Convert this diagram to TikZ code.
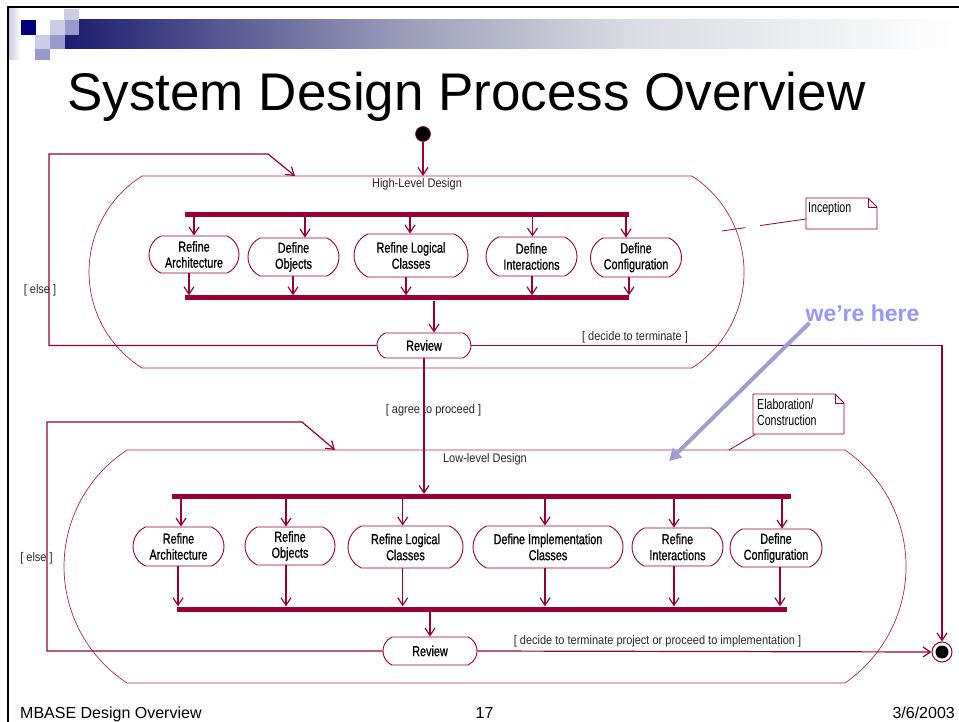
\documentclass[tikz,border=0pt]{standalone}
\usepackage{fontspec}
\setmainfont{Liberation Sans}
\newfontfamily\actfont[FakeStretch=0.75,FakeBold=0.8]{Liberation Sans}
\newfontfamily\notefont[FakeStretch=0.73]{Liberation Sans}
\newfontfamily\labfont[FakeStretch=0.88]{Liberation Sans}
\usetikzlibrary{arrows.meta,shapes.misc}
\definecolor{crimson}{RGB}{153,0,51}
\definecolor{navy}{RGB}{0,0,128}
\definecolor{barstart}{RGB}{28,28,112}
\definecolor{barmid}{RGB}{155,155,185}
\definecolor{barlight}{RGB}{215,218,225}
\definecolor{lavlight}{RGB}{204,204,230}
\definecolor{lavmid}{RGB}{153,153,204}
\definecolor{herecol}{RGB}{150,150,250}
\definecolor{herearrow}{RGB}{158,158,210}
\begin{document}
\begin{tikzpicture}[x=1pt,y=-1pt,
  activity/.style={rounded rectangle, rounded rectangle arc length=130,
    draw=crimson, line width=0.9pt, fill=white, inner sep=0pt, align=center,
    font=\actfont\fontsize{14.5}{16}\selectfont},
  bar/.style={rectangle, fill=crimson, inner sep=0pt, minimum height=5pt},
  conn/.style={draw=crimson, line width=1.2pt, -{Straight Barb[length=7.5pt,width=10pt]}},
  region/.style={draw=crimson!85, line width=0.7pt},
  notebox/.style={draw=crimson, line width=0.8pt},
  notetext/.style={font=\notefont\fontsize{14.5}{16}\selectfont, inner sep=0pt, anchor=base west},
  lab/.style={font=\labfont\fontsize{12.5}{14}\selectfont, text=black!85, anchor=base, inner sep=0pt},
  foot/.style={font=\fontsize{16}{18}\selectfont, inner sep=0pt}]
\useasboundingbox (0,0) rectangle (959,722);

% slide frame
\draw[black, line width=2pt] (8,722) -- (8,7) -- (959,7);

% header decoration
\shade[left color=lavlight, right color=white] (9,9) rectangle (21,60);
\shade[left color=barstart, right color=barmid] (65,20) rectangle (400.5,49);
\shade[left color=barmid, right color=barlight] (400,20) rectangle (620.5,49);
\shade[left color=barlight, right color=white] (620,20) rectangle (959,49);
\fill[navy] (21,20) rectangle (36,35);
\fill[lavlight] (64,9) rectangle (79,20);
\fill[lavlight] (50,20) rectangle (65,35);
\fill[lavlight] (35,35) rectangle (50,49);
\fill[lavmid] (65,20) rectangle (79,35);
\fill[lavmid] (50,35) rectangle (65,49);
\fill[lavmid] (35,49) rectangle (50,60);

% title
\node[anchor=base, inner sep=0pt, font=\fontsize{53}{60}\selectfont] (title) at (466.5,111) {System Design Process Overview};

% superstates
\draw[region] (142,176) -- (692,176) arc[start angle=-56.9, end angle=56.9, radius=114.6]
  -- (142,368) arc[start angle=122.2, end angle=237.8, radius=113.4] -- cycle;
\draw[region] (127,450) -- (845,450) arc[start angle=-55.3, end angle=55.3, radius=141.7]
  -- (127,683) arc[start angle=123.2, end angle=236.8, radius=139.2] -- cycle;
\node[lab] (hltitle) at (417,188) {High-Level Design};
\node[lab] (lltitle) at (485,462.7) {Low-level Design};
\coordinate (hltop) at (423,176);
\coordinate (hlentry) at (295,176);
\coordinate (llentry) at (335,450);

% start and end states
\node[circle, fill=black, draw=crimson, line width=0.6pt, minimum size=15pt, inner sep=0pt] (init) at (423,134) {};
\node[circle, draw=crimson, fill=white, line width=1pt, minimum size=20pt, inner sep=0pt,
  path picture={\fill[black] (path picture bounding box.center) circle (6.5pt);}] (final) at (942,652) {};

% high-level design activities
\node[bar, minimum width=444pt] (hlfork) at (407,214.5) {};
\node[bar, minimum width=444pt] (hljoin) at (407,298) {};
\node[activity, minimum width=90pt, minimum height=37pt] (h1) at (194,254.5) {Refine\\Architecture};
\node[activity, minimum width=91pt, minimum height=38pt] (h2) at (293.5,257) {Define\\Objects};
\node[activity, minimum width=114pt, minimum height=43pt] (h3) at (411,255.5) {Refine Logical\\Classes};
\node[activity, minimum width=91pt, minimum height=39pt] (h4) at (531.5,256.5) {Define\\Interactions};
\node[activity, minimum width=91pt, minimum height=39pt] (h5) at (636,257.5) {Define\\Configuration};
\node[activity, minimum width=94pt, minimum height=25pt] (hreview) at (424,345.5) {Review};

\draw[conn] (init.south) -- (hltop);
\draw[conn] (hlfork.south -| 194,0) -- (h1.north -| 194,0);
\draw[conn] (hlfork.south -| 305,0) -- (h2.north -| 305,0);
\draw[conn] (hlfork.south -| 410,0) -- (h3.north -| 410,0);
\draw[conn] (hlfork.south -| 532.5,0) -- (h4.north -| 532.5,0);
\draw[conn] (hlfork.south -| 626,0) -- (h5.north -| 626,0);
\draw[conn] (h1.south -| 189,0) -- (hljoin.north -| 189,0);
\draw[conn] (h2.south -| 293,0) -- (hljoin.north -| 293,0);
\draw[conn] (h3.south -| 406,0) -- (hljoin.north -| 406,0);
\draw[conn] (h4.south -| 532,0) -- (hljoin.north -| 532,0);
\draw[conn] (h5.south -| 629,0) -- (hljoin.north -| 629,0);
\draw[conn] (hljoin.south -| 434,0) -- (hreview.north -| 434,0);

% high-level transitions
\draw[conn] (hreview.west) -- (hreview.west -| 49,0) -- (49,154) -- (268,154) -- (hlentry);
\node[lab] (else1) at (40,293.3) {[ else ]};
\draw[conn] (hreview.east) -| (final.north);
\node[lab] (term1) at (635,340) {[ decide to terminate ]};
\node[lab] (agree) at (433.5,413.3) {[ agree to proceed ]};

% low-level design activities
\node[bar, minimum width=619pt] (llfork) at (481.5,496.7) {};
\node[bar, minimum width=610pt] (lljoin) at (482,609) {};
\draw[conn] (hreview.south) -- (llfork.north -| hreview.south);
\node[activity, minimum width=91pt, minimum height=39pt] (l1) at (178.5,546.5) {Refine\\Architecture};
\node[activity, minimum width=90pt, minimum height=38pt] (l2) at (290,546) {Refine\\Objects};
\node[activity, minimum width=115pt, minimum height=42pt] (l3) at (405.5,547) {Refine Logical\\Classes};
\node[activity, minimum width=150pt, minimum height=42pt] (l4) at (548,547) {Define Implementation\\Classes};
\node[activity, minimum width=91pt, minimum height=38pt] (l5) at (677.5,547) {Refine\\Interactions};
\node[activity, minimum width=92pt, minimum height=38pt] (l6) at (776,548) {Define\\Configuration};
\node[activity, minimum width=94pt, minimum height=28pt] (lreview) at (430,651) {Review};

\draw[conn] (llfork.south -| 181,0) -- (l1.north -| 181,0);
\draw[conn] (llfork.south -| 286,0) -- (l2.north -| 286,0);
\draw[conn] (llfork.south -| 402.7,0) -- (l3.north -| 402.7,0);
\draw[conn] (llfork.south -| 545,0) -- (l4.north -| 545,0);
\draw[conn] (llfork.south -| 674,0) -- (l5.north -| 674,0);
\draw[conn] (llfork.south -| 782,0) -- (l6.north -| 782,0);
\draw[conn] (l1.south -| 178,0) -- (lljoin.north -| 178,0);
\draw[conn] (l2.south -| 286,0) -- (lljoin.north -| 286,0);
\draw[conn] (l3.south -| 402.7,0) -- (lljoin.north -| 402.7,0);
\draw[conn] (l4.south -| 545,0) -- (lljoin.north -| 545,0);
\draw[conn] (l5.south -| 674,0) -- (lljoin.north -| 674,0);
\draw[conn] (l6.south -| 780,0) -- (lljoin.north -| 780,0);
\draw[conn] (lljoin.south -| lreview.north) -- (lreview.north);

% low-level transitions
\draw[conn] (lreview.west) -- (lreview.west -| 47,0) -- (47,422) -- (302,422) -- (llentry);
\node[lab] (else2) at (36.5,561.5) {[ else ]};
\draw[conn] (lreview.east) -- (final.west);
\node[lab] (term2) at (657.5,644.5) {[ decide to terminate project or proceed to implementation ]};

% notes
\draw[notebox] (806,198) -- (868,198) -- (877,207) -- (877,229) -- (806,229) -- cycle;
\draw[notebox] (868,198) -- (868,207) -- (877,207);
\node[notetext] (inctext) at (808,213) {Inception};
\coordinate (inctail) at (722,231);
\coordinate (incanchor) at (806,219);
\draw[crimson, line width=0.8pt, dash pattern=on 23.5pt off 15pt on 60pt off 0pt] (inctail) -- (incanchor);

\draw[notebox] (753,394) -- (835,394) -- (844,403) -- (844,434) -- (753,434) -- cycle;
\draw[notebox] (835,394) -- (835,403) -- (844,403);
\node[notetext] (elab1) at (757,409) {Elaboration/};
\node[notetext] (elab2) at (757,425.7) {Construction};
\coordinate (elabanchor) at (755,434.5);
\coordinate (elabtail) at (729,450);
\draw[crimson, line width=0.8pt] (elabanchor) -- (elabtail);

% pointer
\node[anchor=base, inner sep=0pt, text=herecol, font=\bfseries\fontsize{23}{26}\selectfont] (here) at (862.5,321.5) {we’re here};
\coordinate (heretip) at (669,461);
\draw[herearrow, line width=4pt, -{Triangle[length=12pt,width=13pt]}] ([xshift=4pt,yshift=-1pt]here.south west) -- (heretip);

% footer
\node[foot, anchor=base west] (ftitle) at (20,718) {MBASE Design Overview};
\node[foot, anchor=base] (fpage) at (484.5,718) {17};
\node[foot, anchor=base east] (fdate) at (955,718) {3/6/2003};
\end{tikzpicture}
\end{document}
